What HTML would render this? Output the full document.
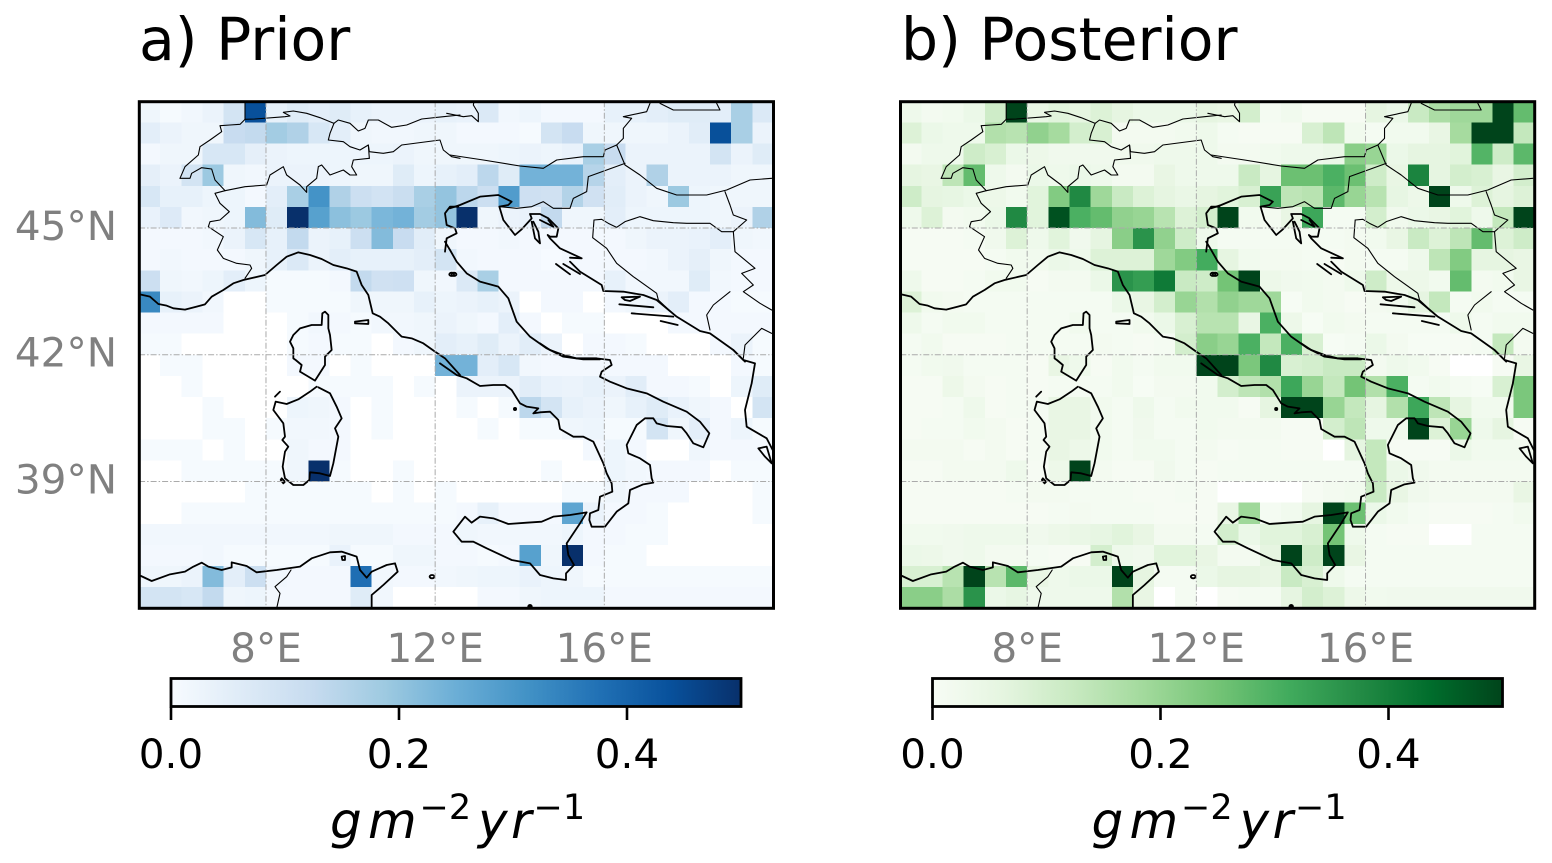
<!DOCTYPE html>
<html lang="en">
<head>
<meta charset="utf-8">
<title>Prior and Posterior maps</title>
<style>
html,body{margin:0;padding:0;background:#fff;width:1552px;height:863px;overflow:hidden}
svg{display:block}
text{font-family:"DejaVu Sans","Liberation Sans",sans-serif}
.coast{fill:none;stroke:#000;stroke-width:5.4;stroke-linejoin:round;stroke-linecap:round}
.border{fill:none;stroke:#000;stroke-width:3.3;stroke-linejoin:round;stroke-linecap:round}
</style>
</head>
<body>
<svg id="figure" xmlns="http://www.w3.org/2000/svg" width="1552" height="863" viewBox="0 0 1552 863">
<defs>
<clipPath id="clip-a"><rect x="139.1" y="101.3" width="634.4" height="507"/></clipPath>
<clipPath id="clip-b"><rect x="900.3" y="101.3" width="634.4" height="507"/></clipPath>
<g id="coast-lines">
<g transform="translate(130,95) scale(0.33333)">
<path class="coast" d="M25,597 L60,605 85,627 110,632 130,640 165,644 200,635 225,628 245,605 280,585 310,565 340,555 405,540 440,510 470,485 505,472 540,480 575,492 610,510 650,520 680,530 695,570 715,600 728,655 750,665 775,685 805,715 815,725 845,730 880,745 915,770 945,790 990,840"/>
<path class="coast" d="M945,470 L950,430 980,415 975,400 950,390 945,355 960,335 985,335"/>
<path class="coast" d="M585,650 L577,655 575,690 545,690 510,700 490,720 480,740 490,760 490,790 497,795 515,810 510,830 555,857 585,810 585,785 605,765 600,720 595,700 595,660 Z"/>
<path class="coast" d="M675,680 L715,675 715,687 675,685 Z"/>
<path class="coast" d="M972,533 a7,5 0 1,0 .1,0 Z"/>
<path class="border" d="M150,250 L165,215 205,180 210,155 240,135 275,110 270,92 300,90 330,88 345,73 375,72 465,65 480,63 460,52 490,48 530,55 570,68 612,85 625,75 660,85 685,108 705,100 715,75 745,75 785,97 830,90 875,72 940,65 990,60"/>
<path class="border" d="M345,20 L345,73 M612,85 L600,115 595,135 640,140 660,155 690,165 715,150 718,170 760,175 790,170 815,150 930,135 940,165 965,185 990,190"/>
<path class="border" d="M718,190 L670,195 665,215 680,240 660,240 640,225 600,240 575,210 565,215 560,250 530,275 530,292 510,270 470,240 460,215 420,240 410,270 345,275 285,287 255,255 245,222 215,218 185,235 180,250 150,250"/>
<path class="border" d="M285,287 L255,295 270,325 298,350 270,375 240,380 235,395 280,425 262,465 280,490 320,505 360,510 365,520 345,550"/>
<path class="border" d="M715,150 L718,190"/>
</g>
<g transform="translate(450,95) scale(0.33333)">
<path class="coast" d="M-15,440 L0,465 20,500 50,535 90,560 145,575 175,610 200,680 240,725 290,760 340,785 400,793 450,793"/>
<path class="coast" d="M0,340 L30,330 90,305 145,300 185,320 175,330 148,335 160,375 195,420 215,403 245,370 240,357 270,357 295,370 325,400 320,425 300,425 293,420 300,430 330,460 395,490 360,488"/>
<path class="coast" d="M360,500 L390,530 455,570 460,588 520,590 580,600 620,615 680,665 750,708 780,715 850,765 885,800"/>
<path class="coast" d="M245,380 L255,430 270,445 265,410 250,380 M270,375 L310,395 295,375 M318,507 L360,538 M340,507 L390,537"/>
<path class="coast" d="M515,607 L570,605 540,618 525,615 Z M508,628 L610,637 M545,655 L670,665 M632,678 L683,690 M5,533 a7,5 0 1,0 .1,0 Z"/>
<path class="border" d="M-10,55 L40,65 65,62 85,80 85,55 70,30 72,20"/>
<path class="border" d="M600,25 L590,50 520,65 545,70 520,100 520,130 500,150 465,165 460,185 400,185 320,195 280,220 210,213 100,195 0,180"/>
<path class="border" d="M500,150 L525,210 570,240 620,280 680,300 770,300 830,285 900,255 965,250"/>
<path class="border" d="M150,335 L200,340 245,335 280,320 310,340 360,340 370,310 410,290 415,245 470,225 525,205"/>
<path class="border" d="M630,25 L670,45 810,45 800,25"/>
<path class="border" d="M432,375 L455,373 475,385 500,397 525,380 570,365 610,377 670,383 710,385 780,385 815,410 850,410 890,375 850,360 840,330 825,290"/>
<path class="border" d="M432,375 L428,428 470,460 500,505 550,545 620,595 625,615 670,657"/>
<path class="border" d="M850,410 L855,470 915,520 875,535 910,570 880,590 930,625 965,645"/>
<path class="border" d="M840,590 L790,630 770,660 780,705"/>
<path class="border" d="M880,790 L885,750 935,700 965,715"/>
</g>
<g transform="translate(130,350) scale(0.33333)">
<path class="coast" d="M560,110 L540,125 505,148 470,162 437,155 430,180 460,220 465,260 457,270 475,290 465,305 458,350 465,385 490,405 520,405 538,390 540,367 570,370 600,378 610,340 625,260 615,235 635,205 620,170 600,130 565,112"/>
<path class="coast" d="M435,140 L450,125 M455,385 L465,395 460,400 452,390 Z"/>
<path class="coast" d="M33,678 L65,693 120,673 165,665 190,650 215,638 235,650 275,660 305,652 305,637 350,648 380,667 440,660 510,650 545,625 600,607 635,605 680,620 690,660 710,683 725,665 770,645 795,640 803,665 760,705 725,735 725,775"/>
<path class="coast" d="M635,620 L645,618 645,630 637,630 Z M906,675 a7,5 0 1,0 .1,0 Z"/>
<path class="border" d="M483,660 L470,680 435,710 450,730 440,775"/>
</g>
<g transform="translate(450,350) scale(0.33333)">
<path class="coast" d="M-30,40 L20,75 50,85 90,108 130,105 165,105 185,120 210,160 230,170 265,175 250,190 270,187 300,185 325,210 330,237 370,260 400,260 430,275 460,340 470,370 485,400 487,425 450,440 445,480 420,490 418,510 425,530 465,530 500,485 535,460 540,420 580,403 610,398 605,385 600,345 570,325 535,310 530,285 560,225 585,205 610,205 620,220 650,228 695,232 710,250 730,280 760,292 778,250 750,215 710,185 640,155 590,130 530,115 480,95 450,80 455,65 485,45 480,30 440,25 380,25 340,15 300,0 270,-20"/>
<path class="coast" d="M10,545 L45,500 65,518 90,500 130,505 175,522 230,518 275,515 310,500 360,495 410,487 390,520 350,580 355,615 372,645 348,670 348,690 310,685 270,675 240,640 185,630 110,595 70,575 35,575 Z"/>
<path class="coast" d="M850,0 L880,30 915,40 905,100 885,180 890,230 950,265 968,300"/>
<path class="coast" d="M925,295 L950,290 965,340 945,320 Z"/>
<circle cx="195" cy="177" r="6" fill="#000"/>
<circle cx="240" cy="770" r="8" fill="#000"/>
</g>
</g>
</defs>
<rect x="0" y="0" width="1552" height="863" fill="#fff"/>
<text x="139" y="60" font-size="58.4" fill="#000">a) Prior</text>
<text x="901" y="60" font-size="58.4" fill="#000">b) Posterior</text>
<g id="panel-a"></g>
<g id="panel-b"></g>
</svg>
<script>
const N = null;
const lonTicks = [8, 12, 16];
const latTicks = [45, 42, 39];
const colorbarTicks = [0.0, 0.2, 0.4];
const blueStops = ["#f7fbff","#deebf7","#c6dbef","#9ecae1","#6baed6","#4292c6","#2171b5","#08519c","#08306b"];
const greenStops = ["#f7fcf5","#e5f5e0","#c7e9c0","#a1d99b","#74c476","#41ab5d","#238b45","#006d2c","#00441b"];
const priorValues = [
[.02,.005,.015,.03,.09,.44,.04,.06,.05,.06,.04,.03,.03,.03,.04,.035,.07,.015,.025,.01,.01,.01,.04,.04,.05,.06,.06,.05,.17,.07],
[.05,.03,.02,.02,.12,.13,.18,.16,.08,.05,.02,.015,.015,.02,.02,.01,.01,.01,.005,.09,.12,.02,.02,.02,.02,.03,.055,.44,.17,.03],
[.01,.02,.02,.08,.08,.045,.03,.025,.025,.025,.025,.025,.03,.02,.02,.02,.02,.025,.03,.025,.035,.17,.12,.03,.03,.03,.03,.09,.03,.06],
[.045,.03,.09,.19,.02,.015,.03,.03,.03,.025,.02,.02,.06,.025,.04,.05,.14,.06,.24,.24,.24,.15,.05,.03,.16,.03,.03,.03,.02,.02],
[.08,.04,.04,.025,.025,.01,.05,.17,.31,.16,.11,.095,.115,.17,.2,.14,.11,.29,.105,.1,.155,.1,.055,.03,.02,.19,.025,.02,.02,.02],
[.035,.065,.015,.02,.025,.22,.06,.5,.28,.21,.19,.23,.24,.18,.2,.5,.02,.03,.035,.13,.02,.02,.05,.025,.025,.025,.025,.02,.03,.16],
[.01,.01,.01,.015,.03,.08,.04,.13,.03,.04,.11,.22,.12,.055,.02,.01,.01,.015,.01,.01,.01,.01,.01,.02,.03,.03,.035,.05,.02,.015],
[.01,.015,.01,.01,.01,.02,.04,.07,.03,.05,.04,.04,.04,.05,.09,.015,.01,.01,.01,.003,.01,.01,.01,.01,.015,.03,.045,.02,.01,.01],
[.11,.02,.015,.025,.05,.025,.005,.005,.005,.01,.13,.1,.105,.02,.015,.07,.17,.01,.01,.01,.01,.01,.04,.015,.015,.015,.06,.015,.01,.01],
[.33,.04,.03,.015,N,N,.005,.005,.005,.005,.02,.02,.02,.04,.025,.03,.04,.03,N,.01,.01,N,.01,.02,.03,.05,.01,.01,.005,.005],
[.01,.01,.01,.01,N,N,N,.005,.015,.01,.005,.015,.015,.02,.03,.02,.01,.05,.01,N,.005,.005,N,N,N,.01,.01,.01,.01,.01],
[.005,.005,N,N,N,N,N,.005,.01,.005,.005,N,.01,.02,.05,.04,.06,.03,.055,.03,N,.01,.01,.005,N,N,N,.01,.03,.005],
[N,.005,.005,N,N,N,N,.01,.01,N,.005,N,N,N,.24,.24,.05,.08,.015,.01,.01,.01,.01,.01,.01,N,N,N,.01,.005],
[N,N,.005,N,N,N,N,N,.005,.005,.005,.005,N,.005,N,.03,.03,.03,.055,.035,.03,.04,.03,.055,.01,.01,.005,N,.025,.06],
[N,N,N,.005,N,N,N,.025,.02,.01,N,.005,N,N,N,.005,N,.005,.14,.09,.04,.03,.02,.04,.06,.035,.02,.01,N,.09],
[N,N,N,.005,.005,N,.005,.015,.015,.01,N,.005,N,N,N,N,.005,N,.005,.005,.02,.025,.005,.005,.09,.02,.05,.01,.025,.005],
[.005,.005,.005,N,.005,N,N,.02,.01,.01,N,N,N,N,N,N,N,N,N,N,N,.01,.025,.01,N,N,.02,.01,.01,.01],
[N,N,.005,.005,.005,.005,.005,.02,.5,.005,N,N,.005,N,N,N,N,N,N,.005,N,N,.025,.015,.01,.01,.01,N,.005,.005],
[N,N,N,N,N,.005,.005,.005,.005,.005,.005,N,.005,N,.005,N,N,N,N,N,.005,.005,.02,.01,.01,.01,N,N,N,.005],
[N,N,.005,.005,.005,.005,.005,.005,.005,.005,.005,.005,.005,.005,.005,.01,.04,.01,.01,.01,.27,.03,.01,.01,.005,N,N,N,N,.005],
[.015,.015,.015,.015,.015,.015,.015,.015,.015,.02,.02,.02,.01,.01,.01,.02,.015,.015,.015,.015,.025,.01,.01,.005,.005,N,N,N,N,N],
[.01,.01,.01,.015,.005,.005,.005,.005,.005,.035,.005,.005,.02,.02,.01,.01,.005,.01,.28,.02,.5,.01,.005,.005,N,N,N,N,N,N],
[.02,.02,.03,.22,.05,.11,.015,.01,.01,.01,.38,.015,.01,.01,.015,.02,.025,.025,.035,.025,.02,.005,.005,.005,.005,.005,.005,.005,.005,.005],
[.09,.09,.08,.13,.02,.025,.01,.01,.01,.01,.06,.015,N,N,N,N,.01,.01,.02,.025,.025,.025,.01,.01,.01,.01,.01,.01,.01,.01]
];
const posteriorValues = [
[.03,.015,.02,.04,.11,.5,.05,.07,.06,.08,.06,.04,.04,.04,.06,.05,.1,.01,.02,.005,.005,.005,.06,.04,.12,.17,.19,.19,.5,.27],
[.08,.04,.03,.03,.16,.15,.21,.18,.10,.09,.015,.015,.015,.02,.03,.01,.005,.005,.005,.09,.14,.02,.01,.02,.02,.05,.18,.5,.5,.13],
[.015,.03,.03,.11,.09,.04,.035,.025,.025,.025,.025,.025,.03,.03,.03,.015,.015,.02,.03,.03,.04,.22,.2,.04,.06,.06,.07,.29,.11,.28],
[.06,.05,.14,.27,.03,.015,.04,.03,.04,.03,.015,.015,.05,.03,.03,.03,.12,.06,.26,.26,.3,.26,.11,.05,.39,.06,.1,.09,.05,.1],
[.11,.06,.055,.04,.035,.02,.07,.23,.38,.19,.12,.08,.06,.045,.06,.07,.09,.33,.14,.15,.28,.2,.15,.055,.035,.5,.03,.08,.06,.08],
[.03,.08,.015,.02,.04,.38,.07,.48,.3,.27,.21,.2,.15,.08,.1,.5,.02,.015,.05,.32,.01,.01,.1,.025,.04,.05,.07,.03,.13,.5],
[.005,.005,.005,.01,.025,.08,.03,.07,.025,.06,.22,.36,.21,.11,.03,.01,.01,.01,.01,.01,.01,.015,.02,.05,.12,.08,.14,.27,.08,.11],
[.005,.005,.005,.005,.01,.02,.02,.04,.03,.08,.08,.08,.19,.23,.31,.06,.02,.015,.015,.01,.005,.015,.01,.01,.03,.14,.23,.06,.06,.05],
[.03,.005,.005,.01,.02,.02,.005,.015,.015,.04,.36,.34,.41,.12,.11,.25,.5,.035,.025,.02,.015,.03,.11,.035,.035,.02,.27,.015,.02,.05],
[.08,.02,.015,.01,.01,.01,.01,.01,.01,.01,.04,.05,.1,.2,.16,.21,.19,.19,.003,.02,.015,.005,.015,.02,.06,.13,.01,.02,.01,.01],
[.03,.01,.02,.02,.01,.01,.01,.01,.02,.01,.01,.02,.04,.09,.15,.15,.05,.3,.035,.003,.02,.015,.01,.01,.01,.01,.03,.01,.02,.02],
[.01,.02,.005,.005,.005,.01,.01,.01,.01,.015,.01,.005,.01,.1,.22,.2,.3,.13,.3,.09,.003,.01,.04,.015,.003,.003,.005,.01,.13,.015],
[.01,.02,.025,.01,.01,.01,.005,.05,.03,.005,.02,.01,.02,.02,.5,.5,.24,.38,.09,.1,.12,.12,.015,.03,.02,.005,N,N,.005,.05],
[.005,.005,.035,.015,.005,.01,.005,.01,.01,.01,.02,.003,.015,.015,.02,.1,.14,.16,.32,.2,.13,.25,.16,.3,.01,.02,.01,.003,.09,.24],
[.005,.005,.01,.03,.005,.01,.01,.05,.05,.02,.01,.03,.01,.02,.02,.02,.005,.06,.5,.5,.2,.13,.06,.16,.32,.14,.06,.02,.02,.24],
[.005,.01,.01,.02,.015,.005,.01,.05,.05,.02,.01,.025,.01,.01,.02,.015,.015,.015,.005,.005,.1,.14,.03,.03,.5,.08,.2,.03,.06,.005],
[.015,.015,.015,.005,.015,.005,.01,.05,.035,.02,.01,.02,.02,.01,.015,.005,.01,.01,.005,.005,N,.06,.13,.005,.005,.005,.04,.02,.02,.02],
[.005,.005,.015,.015,.015,.03,.005,.035,.5,.015,.005,.005,.025,.01,.005,.01,.01,.01,.01,.01,.01,.01,.13,.04,.025,.015,.015,.015,.015,.015],
[.005,.005,.005,.005,.005,.01,.015,.015,.01,.01,.01,.005,.005,.01,.005,N,N,N,N,.005,.015,.02,.12,.05,.025,.015,.015,.015,.015,.05],
[.005,.005,.005,.005,.005,.005,.005,.01,.015,.01,.01,.01,.005,.005,.005,.05,.19,.01,.02,.06,.5,.26,.04,.02,.01,.005,.005,.005,.01,.02],
[.02,.02,.025,.03,.03,.03,.025,.035,.045,.055,.07,.05,.015,.015,.01,.1,.04,.07,.07,.09,.25,.03,.01,.005,.005,N,N,.01,.01,.01],
[.04,.035,.025,.03,.015,.015,.01,.005,.005,.1,.03,.025,.07,.07,.05,.015,.015,.06,.5,.11,.5,.05,.01,.01,.01,.01,.01,.01,.01,.01],
[.09,.09,.15,.5,.15,.28,.05,.03,.04,.04,.5,.06,.01,.01,.04,.06,.06,.05,.12,.09,.03,.01,.01,.01,.01,.01,.01,.01,.01,.01],
[.22,.22,.17,.36,.04,.055,.03,.03,.03,.03,.16,.05,N,.01,N,.005,.01,.01,.06,.1,.08,.035,.02,.025,.025,.025,.025,.025,.025,.025]
];

const SVG_NS = "http://www.w3.org/2000/svg";
const VMAX = 0.5;
const LON0 = 5, LON1 = 20, LAT0 = 48, LAT1 = 36, STEP = 0.5;
const MAP_W = 634.4, MAP_H = 507, MAP_TOP = 101.3;

function make(tag, attrs, parent) {
  const el = document.createElementNS(SVG_NS, tag);
  for (const k in attrs) el.setAttribute(k, attrs[k]);
  parent.appendChild(el);
  return el;
}
function hexToRgb(h) {
  return [parseInt(h.slice(1,3),16), parseInt(h.slice(3,5),16), parseInt(h.slice(5,7),16)];
}
function colormap(stops, v) {
  const t = Math.max(0, Math.min(1, v / VMAX)) * (stops.length - 1);
  const i = Math.min(stops.length - 2, Math.floor(t));
  const f = t - i;
  const a = hexToRgb(stops[i]), b = hexToRgb(stops[i + 1]);
  return "rgb(" + a.map(function (c, j) { return Math.round(c + (b[j] - c) * f); }).join(",") + ")";
}

function drawPanel(id, mapX, cbarX, values, stops, clipId, gradientId, withLat) {
  const root = document.getElementById(id);
  const xScale = function (lon) { return mapX + (lon - LON0) / (LON1 - LON0) * MAP_W; };
  const yScale = function (lat) { return MAP_TOP + (LAT0 - lat) / (LAT0 - LAT1) * MAP_H; };
  const cbarW = 570;
  const cScale = function (v) { return cbarX + v / VMAX * cbarW; };

  const cells = make("g", {"shape-rendering": "crispEdges"}, root);
  
  
  values.forEach(function (row, r) {
    row.forEach(function (v, c) {
      if (v === null) return;
      const lon = LON0 + c * STEP, lat = LAT0 - r * STEP;
      const rect = make("rect", {
        x: xScale(lon), y: yScale(lat),
        width: xScale(lon + STEP) - xScale(lon),
        height: yScale(lat - STEP) - yScale(lat),
        fill: colormap(stops, v)
      }, cells);
      
      
    });
  });

  const map = make("g", {"clip-path": "url(#" + clipId + ")"}, root);
  
  
  const use = make("use", {href: "#coast-lines", transform: "translate(" + (mapX - 139.1) + ",0)"}, map);
  
  

  lonTicks.forEach(function (lon) {
    const x = xScale(lon);
    const line = make("line", {x1: x, x2: x, y1: MAP_TOP, y2: MAP_TOP + MAP_H, stroke: "#aaaaaa", "stroke-width": 1, "stroke-dasharray": "6 2 1.5 2"}, map);
    
    
    const label = make("text", {x: x, y: 662, "text-anchor": "middle", "font-size": 40.5, fill: "#808080"}, root);
    label.textContent = lon + "°E";
    
    
  });
  latTicks.forEach(function (lat) {
    const y = yScale(lat);
    const line = make("line", {x1: mapX, x2: mapX + MAP_W, y1: y, y2: y, stroke: "#aaaaaa", "stroke-width": 1, "stroke-dasharray": "6 2 1.5 2"}, map);
    
    
    if (withLat) {
      const label = make("text", {x: 117, y: y + 11.7, "text-anchor": "end", "font-size": 40.5, fill: "#808080"}, root);
      label.textContent = lat + "°N";
      
      
    }
  });

  const spine = make("rect", {x: mapX + 0.2, y: 101.7, width: 634.2, height: 506.6, fill: "none", stroke: "#000", "stroke-width": 3}, root);
  
  

  const defs = document.querySelector("#figure defs");
  const grad = make("linearGradient", {id: gradientId, x1: 0, x2: 1, y1: 0, y2: 0}, defs);
  stops.forEach(function (s, i) {
    make("stop", {offset: i / (stops.length - 1), "stop-color": s}, grad);
  });
  const bar = make("rect", {x: cbarX, y: 678.5, width: cbarW, height: 28, fill: "url(#" + gradientId + ")", stroke: "#000", "stroke-width": 2.8}, root);
  
  

  colorbarTicks.forEach(function (v) {
    const x = cScale(v);
    const tick = make("line", {x1: x, x2: x, y1: 707, y2: 720, stroke: "#000", "stroke-width": 2.6}, root);
    
    
    const label = make("text", {x: x, y: 768, "text-anchor": "middle", "font-size": 40.5, fill: "#000"}, root);
    label.textContent = v.toFixed(1);
    
    
  });

  const unit = make("text", {y: 838, "font-size": 50, "font-style": "italic", fill: "#000"}, root);
  
  
  const base = cbarX + 159;
  const parts = [
    ["g", 0, 0, 50, "italic"],
    ["m", 38, 0, 50, "italic"],
    ["\u22122", 89.5, -19, 35, "normal"],
    ["y", 148, 0, 50, "italic"],
    ["r", 181, 0, 50, "italic"],
    ["\u22121", 203.5, -19, 35, "normal"]
  ];
  parts.forEach(function (p) {
    const t = make("tspan", {x: base + p[1], y: 838 + p[2], "font-size": p[3], "font-style": p[4]}, unit);
    t.textContent = p[0];
  });
}

drawPanel("panel-a", 139.1, 171, priorValues, blueStops, "clip-a", "blues-gradient", true);
drawPanel("panel-b", 900.3, 932.5, posteriorValues, greenStops, "clip-b", "greens-gradient", false);
</script>
</body>
</html>
